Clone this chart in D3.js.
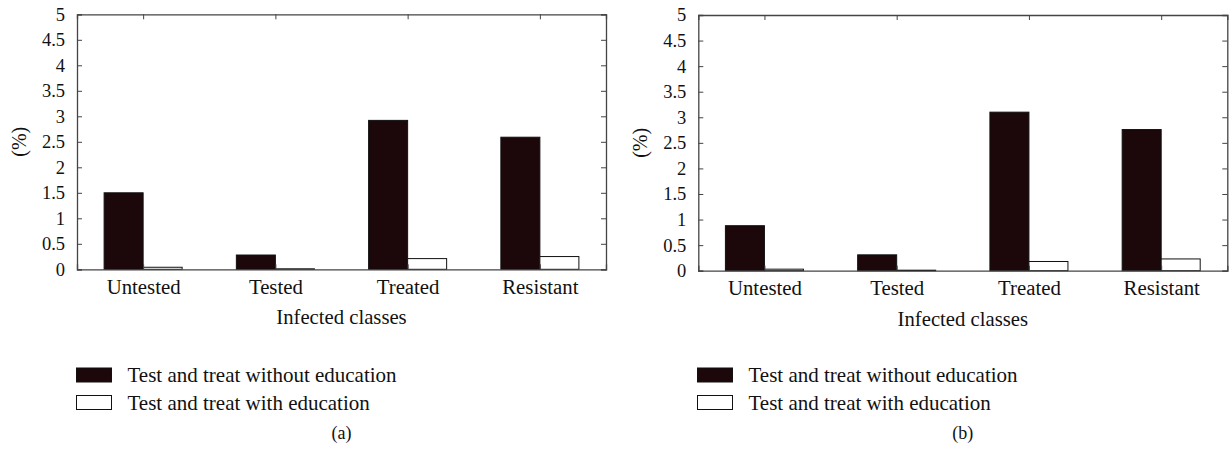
<!DOCTYPE html>
<html>
<head>
<meta charset="utf-8">
<script src="https://cdn.jsdelivr.net/npm/d3@7"></script>
<style>
  html, body { margin: 0; padding: 0; background: #fff; }
  svg { display: block; }
  text { font-family: "Liberation Serif", "DejaVu Serif", serif; fill: #111; }
</style>
</head>
<body>
<svg id="chart" width="1229" height="456"></svg>
<script>
// ---- data ----
const categories = ["Untested", "Tested", "Treated", "Resistant"];
const seriesNames = ["Test and treat without education", "Test and treat with education"];
const panelAWithout = [1.50, 0.28, 2.92, 2.59];
const panelAWith    = [0.04, 0.01, 0.21, 0.25];
const panelBWithout = [0.88, 0.31, 3.10, 2.76];
const panelBWith    = [0.03, 0.01, 0.18, 0.23];
const yTicks = [0, 0.5, 1, 1.5, 2, 2.5, 3, 3.5, 4, 4.5, 5];
const panelLabels = ["(a)", "(b)"];

const svg = d3.select("#chart");
const darkFill = "#1c070a";
const axisColor = "#444";

function drawPanel(cfg) {
  const g = svg.append("g");
  const x = d3.scaleLinear().domain([0.5, categories.length + 0.5]).range([cfg.left, cfg.right]);
  const y = d3.scaleLinear().domain([0, 5]).range([cfg.bottom, cfg.top]);
  const bw = 0.295;

  const series = [cfg.without, cfg.with];
  series.forEach((vals, si) => {
    g.selectAll(null).data(vals).enter().append("rect")
      .attr("x", (d, i) => si === 0 ? x(i + 1 - bw) : x(i + 1))
      .attr("width", x(bw) - x(0))
      .attr("y", d => y(d))
      .attr("height", d => y(0) - y(d))
      .attr("fill", si === 0 ? darkFill : "#fff")
      .attr("stroke", "#111")
      .attr("stroke-width", 1);
  });

  // box axes
  const left = d3.axisLeft(y).tickValues(yTicks).tickSize(-5).tickPadding(12)
    .tickFormat(d => d3.format("~g")(d));
  const gl = g.append("g").attr("transform", `translate(${cfg.left},0)`).call(left);
  const right = d3.axisRight(y).tickValues(yTicks).tickSize(-5).tickFormat("");
  const gr = g.append("g").attr("transform", `translate(${cfg.right},0)`).call(right);
  const top = d3.axisTop(x).tickValues(d3.range(1, categories.length + 1)).tickSize(-5).tickFormat("");
  const gt = g.append("g").attr("transform", `translate(0,${cfg.top})`).call(top);
  const bottom = d3.axisBottom(x).tickValues(d3.range(1, categories.length + 1)).tickSize(-5)
    .tickPadding(9.5).tickFormat(d => categories[d - 1]);
  const gb = g.append("g").attr("transform", `translate(0,${cfg.bottom})`).call(bottom);

  [gl, gr, gt, gb].forEach(a => {
    a.select(".domain").attr("stroke", axisColor).attr("stroke-width", 1.3);
    a.selectAll(".tick line").attr("stroke", axisColor);
  });
  gl.selectAll("text").attr("font-size", 18.5).attr("fill", "#111")
    .attr("font-family", "Liberation Serif, serif");
  gb.selectAll("text").attr("font-size", 20.8).attr("fill", "#111")
    .attr("font-family", "Liberation Serif, serif");

  // axis titles
  g.append("text")
    .attr("transform", `translate(${cfg.left - 56},${(cfg.top + cfg.bottom) / 2}) rotate(-90)`)
    .attr("text-anchor", "middle").attr("dominant-baseline", "middle")
    .attr("font-size", 20).text("(%)");
  g.append("text")
    .attr("x", (cfg.left + cfg.right) / 2).attr("y", cfg.bottom + 55)
    .attr("text-anchor", "middle").attr("font-size", 20.7).text("Infected classes");

  // legend
  seriesNames.forEach((name, i) => {
    const ly = cfg.legendTop + i * 27.5;
    g.append("rect")
      .attr("x", cfg.legendX).attr("y", ly)
      .attr("width", 35).attr("height", 14)
      .attr("fill", i === 0 ? darkFill : "#fff")
      .attr("stroke", "#111").attr("stroke-width", 1);
    g.append("text")
      .attr("x", cfg.legendX + 51).attr("y", ly + 14)
      .attr("font-size", 21).text(name);
  });

  g.append("text")
    .attr("x", (cfg.left + cfg.right) / 2).attr("y", 439)
    .attr("text-anchor", "middle").attr("font-size", 18).text(cfg.label);
}

drawPanel({ left: 77, right: 606, top: 14.3, bottom: 269.3,
  without: panelAWithout, with: panelAWith, legendX: 76.5, legendTop: 368, label: panelLabels[0] });
drawPanel({ left: 698.3, right: 1227.3, top: 15, bottom: 270.7,
  without: panelBWithout, with: panelBWith, legendX: 697.5, legendTop: 368, label: panelLabels[1] });
</script>
</body>
</html>
